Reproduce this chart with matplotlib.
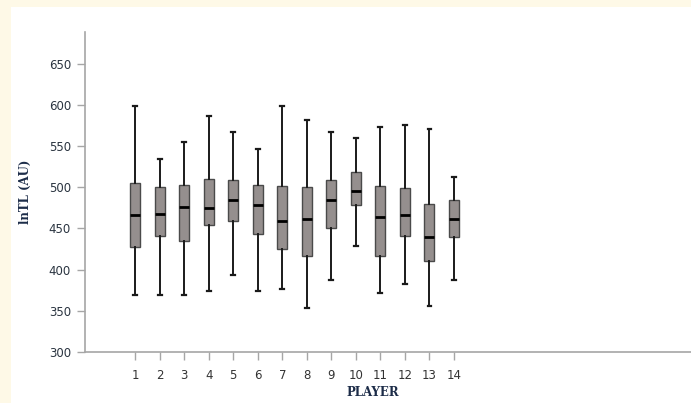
#!/usr/bin/env python3
"""Box plot of lnTL per player."""

import matplotlib
matplotlib.use("Agg")
import matplotlib.pyplot as plt
from matplotlib.patches import Rectangle

players = list(range(1, 15))
whisker_low = [369, 369, 369, 374, 393, 374, 376, 353, 387, 429, 372, 383, 356, 387]
q1 = [428, 441, 435, 454, 459, 443, 425, 417, 450, 478, 416, 441, 411, 439]
median = [466, 468, 476, 475, 485, 479, 459, 461, 484, 496, 464, 466, 440, 461]
q3 = [505, 500, 503, 510, 509, 503, 502, 500, 509, 519, 501, 499, 480, 485]
whisker_high = [599, 534, 555, 586, 567, 546, 598, 581, 567, 560, 573, 575, 571, 513]
yticks = [300, 350, 400, 450, 500, 550, 600, 650]

W, H = 691, 403
fig = plt.figure(figsize=(W / 100, H / 100), dpi=100)
fig.patch.set_facecolor("#fef9e7")
fig.add_artist(Rectangle((11 / W, 0), 1, 1 - 7 / H, transform=fig.transFigure,
                         facecolor="white", edgecolor="none", zorder=0))

ax = fig.add_axes([85 / W, 1 - 352 / H, 1 - 85 / W, 320 / H])
ax.set_facecolor("white")

stats = []
for i in range(len(players)):
    stats.append({
        "whislo": whisker_low[i], "q1": q1[i], "med": median[i],
        "q3": q3[i], "whishi": whisker_high[i], "fliers": [],
    })

ax.bxp(stats, positions=players, widths=0.41, patch_artist=True, showfliers=False,
       boxprops=dict(facecolor="#958f8e", edgecolor="#4a4a4a", linewidth=1.0),
       medianprops=dict(color="black", linewidth=2.0),
       whiskerprops=dict(color="#1a1a1a", linewidth=1.4),
       capprops=dict(color="#1a1a1a", linewidth=1.6),
       capwidths=0.16)

ax.set_xlim(-1.04, 23.66)
ax.set_ylim(300, 688.4)
ax.set_xticks(players)
ax.set_xticklabels([str(p) for p in players])
ax.set_yticks(yticks)

for side in ("top", "right"):
    ax.spines[side].set_visible(False)
for side in ("left", "bottom"):
    ax.spines[side].set_color("#a6a6a6")
    ax.spines[side].set_linewidth(1.2)

ax.tick_params(axis="both", length=6, width=1.0, color="#a6a6a6", labelsize=8.5)
ax.tick_params(axis="x", labelcolor="#333333", pad=6)
ax.tick_params(axis="y", labelcolor="#2a3440", pad=4)

ax.set_xlabel("PLAYER", fontfamily="DejaVu Serif", fontweight="bold",
              fontsize=8.5, color="#1c2c48")
ax.xaxis.set_label_coords((373 - 85) / (W - 85), -34 / 320)
ax.set_ylabel("lnTL (AU)", fontfamily="DejaVu Serif", fontweight="bold",
              fontsize=8.5, color="#1c2c48")
ax.yaxis.set_label_coords(-(85 - 32) / (W - 85), 0.5)

fig.savefig("out.png", dpi=100, facecolor=fig.get_facecolor())
